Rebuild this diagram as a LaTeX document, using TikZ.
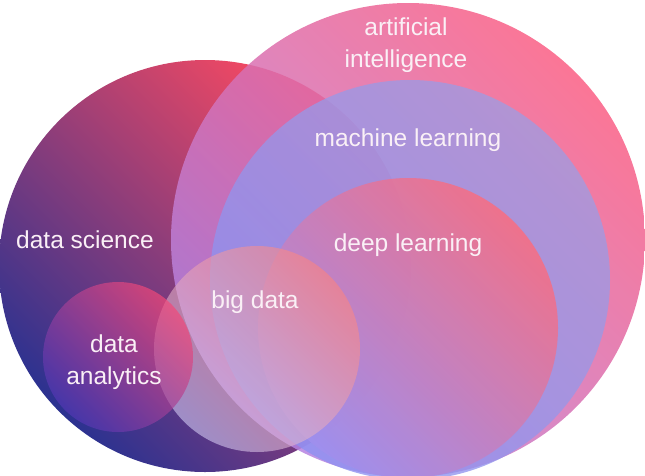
\documentclass[tikz,border=0pt]{standalone}
\usepackage{fontspec}
\setmainfont{Liberation Sans}
\usepackage{tikz}

\definecolor{dsred}{HTML}{FF4A60}
\definecolor{dsmid}{HTML}{B0447A}
\definecolor{dsblue}{HTML}{2C3290}
\definecolor{aipink}{HTML}{FA5E84}
\definecolor{aililac}{HTML}{B484E4}
\definecolor{mlblue}{HTML}{8C90F2}
\definecolor{mllilac}{HTML}{A09CE2}
\definecolor{dlpink}{HTML}{FA6C80}
\definecolor{dllilac}{HTML}{A090EE}
\definecolor{bdsalmon}{HTML}{FC8480}
\definecolor{bdlight}{HTML}{D0C8F2}
\definecolor{dapink}{HTML}{F44878}
\definecolor{dapurple}{HTML}{5238B4}
\definecolor{txt}{HTML}{FAF0F6}

\begin{document}
\begin{tikzpicture}[
  x=1pt, y=-1pt,
  venn/.style={shading angle=-45},
  lbl/.style={text=txt, align=center, font=\fontsize{24.5}{32}\selectfont}
]
\useasboundingbox (0,0) rectangle (645,475);
\clip (0,0) rectangle (645,475);

% the circles
\shade[top color=dsred, middle color=dsmid, bottom color=dsblue, venn] (205,266) circle (206);
\shade[fill opacity=0.85, top color=aipink, bottom color=aililac, venn] (408,240) circle (237);
\shade[fill opacity=0.78, top color=mllilac, bottom color=mlblue, venn] (410,280) circle (200);
\shade[fill opacity=0.85, top color=dlpink, bottom color=dllilac, venn] (408,328) circle (150);
\shade[fill opacity=0.6, top color=bdsalmon, bottom color=bdlight, venn] (257,349) circle (103);
\shade[fill opacity=0.7, top color=dapink, bottom color=dapurple, venn] (118,357) circle (75);

% the labels
\node[lbl] (ai) at (406,45) {artificial\\intelligence};
\node[lbl] (ml) at (408,140) {machine learning};
\node[lbl] (ds) at (85,240) {data science};
\node[lbl] (dl) at (408,245) {deep learning};
\node[lbl] (bd) at (255,302) {big data};
\node[lbl] (da) at (114,362) {data\\analytics};
\end{tikzpicture}
\end{document}
